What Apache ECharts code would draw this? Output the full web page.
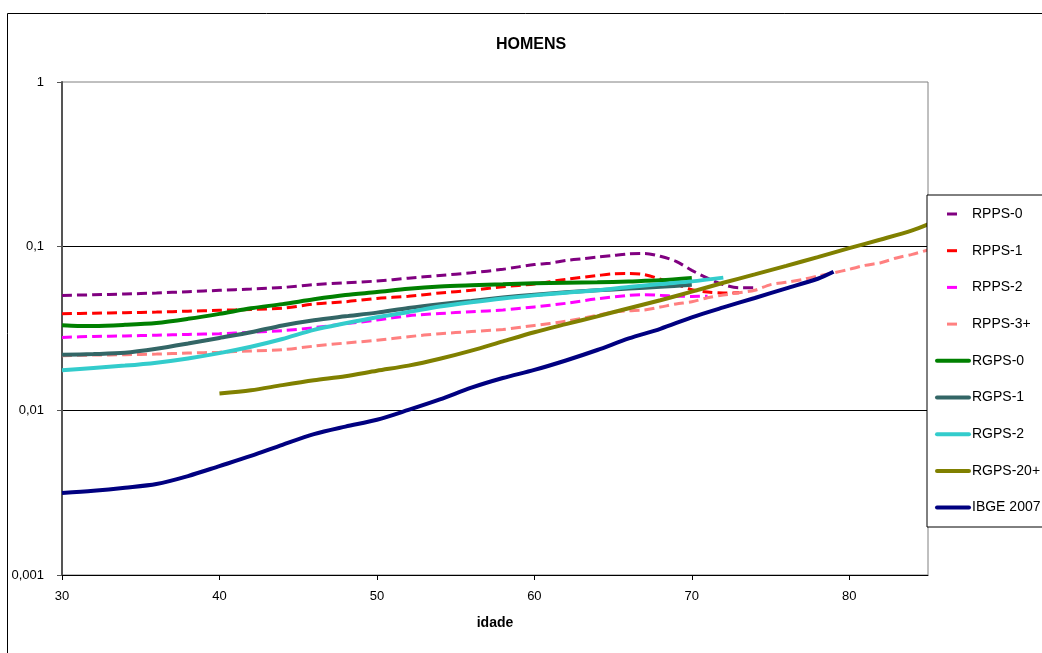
<!DOCTYPE html>
<html>
<head>
<meta charset="utf-8">
<title>HOMENS</title>
<script src="https://cdn.jsdelivr.net/npm/echarts@6/dist/echarts.min.js"></script>
<style>
  html, body { margin: 0; padding: 0; background: #ffffff; }
  #chart { width: 1042px; height: 653px; }
</style>
</head>
<body>
<div id="chart"></div>
<script>
// Mortality rates by age (log scale), males
const xTicks = [30, 40, 50, 60, 70, 80];
const yTicks = [0.001, 0.01, 0.1, 1];

const agesRPPS0 = [30, 32, 34, 36, 38, 40, 42, 44, 46, 48, 50, 52, 54, 56, 58, 59, 60, 61, 62, 63, 64, 65, 66, 67, 68, 69, 70, 71, 72, 73, 74];
const rpps0 = [0.0503, 0.0507, 0.0513, 0.052, 0.053, 0.054, 0.055, 0.0562, 0.0585, 0.06, 0.0615, 0.064, 0.0665, 0.069, 0.0725, 0.075, 0.0775, 0.079, 0.082, 0.084, 0.086, 0.088, 0.09, 0.0905, 0.087, 0.081, 0.0714, 0.064, 0.0585, 0.056, 0.056];

const agesRPPS1 = [30, 32, 34, 36, 38, 40, 42, 44, 46, 48, 50, 52, 54, 56, 58, 60, 62, 64, 65, 66, 67, 68, 69, 70, 71, 72, 73];
const rpps1 = [0.0389, 0.0392, 0.0395, 0.0398, 0.0403, 0.0408, 0.0413, 0.042, 0.0445, 0.046, 0.0482, 0.0497, 0.052, 0.054, 0.0568, 0.059, 0.063, 0.0664, 0.068, 0.0683, 0.0672, 0.0632, 0.059, 0.0545, 0.0527, 0.052, 0.0522];

const agesRPPS2 = [30, 32, 34, 36, 38, 40, 42, 44, 46, 48, 50, 52, 54, 56, 58, 60, 62, 64, 66, 67, 68, 69, 70, 71];
const rpps2 = [0.0279, 0.0283, 0.0285, 0.0288, 0.0291, 0.0294, 0.03, 0.0307, 0.032, 0.0338, 0.0356, 0.0378, 0.039, 0.04, 0.041, 0.0428, 0.045, 0.048, 0.0503, 0.0508, 0.0503, 0.0497, 0.0496, 0.0497];

const agesRPPS3 = [30, 32, 34, 36, 38, 40, 42, 44, 46, 48, 50, 52, 54, 56, 58, 60, 62, 64, 65, 66, 67, 68, 69, 70, 71, 72, 73, 74, 75, 76, 77, 78, 79, 80, 81, 82, 83, 84, 85];
const rpps3 = [0.0216, 0.0218, 0.0219, 0.0221, 0.0224, 0.0227, 0.0231, 0.0235, 0.0247, 0.0258, 0.0268, 0.0282, 0.0294, 0.0303, 0.0312, 0.033, 0.035, 0.038, 0.0398, 0.0405, 0.041, 0.0427, 0.0446, 0.046, 0.0487, 0.0505, 0.0522, 0.054, 0.0585, 0.0605, 0.0627, 0.066, 0.069, 0.0725, 0.0766, 0.0795, 0.085, 0.0894, 0.095];

const agesRGPS0 = [30, 31, 32, 34, 36, 38, 40, 42, 44, 46, 48, 50, 52, 54, 56, 58, 60, 62, 64, 66, 68, 70];
const rgps0 = [0.0331, 0.0328, 0.0328, 0.0333, 0.0342, 0.0362, 0.0388, 0.042, 0.0445, 0.0476, 0.0505, 0.0527, 0.0552, 0.057, 0.058, 0.0588, 0.0596, 0.06, 0.0604, 0.0612, 0.0621, 0.0641];

const agesRGPS1 = [30, 32, 34, 36, 38, 40, 42, 44, 46, 48, 50, 52, 54, 56, 58, 60, 62, 64, 66, 68, 70];
const rgps1 = [0.0219, 0.0221, 0.0225, 0.0238, 0.0256, 0.0277, 0.03, 0.033, 0.0355, 0.0375, 0.0395, 0.0422, 0.0445, 0.0465, 0.0488, 0.0508, 0.0525, 0.054, 0.0553, 0.0567, 0.0583];

const agesRGPS2 = [30, 32, 34, 36, 38, 40, 42, 44, 46, 48, 50, 52, 54, 56, 58, 60, 62, 64, 66, 68, 70, 72];
const rgps2 = [0.0176, 0.0182, 0.0188, 0.0196, 0.0208, 0.0224, 0.0245, 0.0273, 0.031, 0.034, 0.037, 0.0398, 0.043, 0.0457, 0.0482, 0.0503, 0.0522, 0.054, 0.0565, 0.059, 0.0612, 0.0645];

const agesRGPS20 = [40, 42, 44, 46, 48, 50, 52, 54, 56, 58, 60, 62, 64, 66, 68, 70, 72, 74, 76, 78, 80, 82, 84, 85];
const rgps20 = [0.0127, 0.0133, 0.0143, 0.0153, 0.0162, 0.0175, 0.0188, 0.0207, 0.0232, 0.0264, 0.03, 0.0336, 0.0375, 0.042, 0.047, 0.053, 0.06, 0.0675, 0.076, 0.086, 0.0975, 0.11, 0.125, 0.136];

const agesIBGE = [30, 32, 34, 36, 38, 40, 42, 44, 46, 48, 50, 52, 54, 56, 58, 60, 62, 64, 66, 68, 70, 72, 74, 76, 78, 79];
const ibge2007 = [0.00316, 0.00326, 0.0034, 0.00358, 0.004, 0.0046, 0.0053, 0.0062, 0.0072, 0.008, 0.0088, 0.0101, 0.0117, 0.0138, 0.0158, 0.0177, 0.0202, 0.0234, 0.0275, 0.0315, 0.037, 0.0425, 0.0485, 0.0555, 0.0635, 0.07];

const seriesNames = ['RPPS-0', 'RPPS-1', 'RPPS-2', 'RPPS-3+', 'RGPS-0', 'RGPS-1', 'RGPS-2', 'RGPS-20+', 'IBGE 2007'];
const seriesAges = [agesRPPS0, agesRPPS1, agesRPPS2, agesRPPS3, agesRGPS0, agesRGPS1, agesRGPS2, agesRGPS20, agesIBGE];
const seriesValues = [rpps0, rpps1, rpps2, rpps3, rgps0, rgps1, rgps2, rgps20, ibge2007];
const seriesColors = ['#800080', '#FF0000', '#FF00FF', '#FF8080', '#008000', '#336666', '#33CCCC', '#808000', '#000080'];
const seriesDashed = [true, true, true, true, false, false, false, false, false];

const FONT = '"Liberation Sans", Arial, sans-serif';

const series = seriesNames.map((name, i) => ({
  name: name,
  type: 'line',
  data: seriesAges[i].map((a, k) => [a, seriesValues[i][k]]),
  showSymbol: false,
  symbol: 'none',
  smooth: 0.3,
  lineStyle: {
    color: seriesColors[i],
    width: seriesDashed[i] ? 3 : 4,
    type: seriesDashed[i] ? [10, 5] : 'solid',
    cap: 'butt'
  },
  itemStyle: { color: seriesColors[i] },
  emphasis: { disabled: true },
  silent: true,
  z: 2 + i
}));

// Legend box on the right, drawn as graphic elements
const legendLeft = 927, legendTop = 195, legendStep = 36.7, firstRow = 214;
const legendItems = [];
legendItems.push({
  type: 'rect',
  shape: { x: legendLeft, y: legendTop, width: 140, height: 332 },
  style: { fill: '#ffffff', stroke: '#000000', lineWidth: 1 },
  z: 100
});
seriesNames.forEach((name, i) => {
  const y = firstRow + i * legendStep;
  legendItems.push({
    type: 'line',
    shape: seriesDashed[i]
      ? { x1: 947, y1: y, x2: 957, y2: y }
      : { x1: 937, y1: y, x2: 969, y2: y },
    style: { stroke: seriesColors[i], lineWidth: seriesDashed[i] ? 3 : 4, lineCap: seriesDashed[i] ? 'butt' : 'round' },
    z: 101
  });
  legendItems.push({
    type: 'text',
    x: 972, y: y,
    style: { text: name, fill: '#000000', font: '14px ' + FONT, textVerticalAlign: 'middle', textAlign: 'left' },
    z: 101
  });
});

const chart = echarts.init(document.getElementById('chart'), null, { renderer: 'canvas' });
chart.setOption({
  animation: false,
  backgroundColor: '#ffffff',
  title: {
    text: 'HOMENS',
    left: 526,
    top: 32,
    textAlign: 'center',
    textStyle: { fontFamily: FONT, fontSize: 16, fontWeight: 'bold', color: '#000000' }
  },
  grid: {
    left: 62, right: 114, top: 82, bottom: 78,
    show: true, borderColor: '#808080', borderWidth: 1, backgroundColor: 'transparent'
  },
  xAxis: {
    type: 'value',
    min: 30, max: 85, interval: 10,
    name: 'idade',
    nameLocation: 'middle',
    nameGap: 41,
    nameTextStyle: { fontFamily: FONT, fontSize: 14, fontWeight: 'bold', color: '#000000' },
    axisLine: { show: true, onZero: false, lineStyle: { color: '#000000', width: 1 } },
    axisTick: { show: true, inside: false, length: 5, lineStyle: { color: '#000000' } },
    axisLabel: {
      showMaxLabel: false,
      margin: 15,
      fontFamily: FONT, fontSize: 13, color: '#000000',
      formatter: v => (xTicks.indexOf(v) >= 0 ? String(v) : '')
    },
    splitLine: { show: false }
  },
  yAxis: {
    type: 'log',
    logBase: 10,
    min: yTicks[0], max: yTicks[yTicks.length - 1],
    axisLine: { show: true, lineStyle: { color: '#555555', width: 2 } },
    axisTick: { show: true, inside: false, length: 5, lineStyle: { color: '#555555' } },
    axisLabel: {
      margin: 18,
      fontFamily: FONT, fontSize: 13, color: '#000000',
      formatter: v => String(v).replace('.', ',')
    },
    splitLine: { show: true, showMinLine: false, showMaxLine: false, lineStyle: { color: '#000000', width: 1 } }
  },
  series: series,
  graphic: [
    {
      type: 'rect',
      shape: { x: 7.5, y: 13.5, width: 1100, height: 700 },
      style: { fill: 'none', stroke: '#000000', lineWidth: 1 },
      z: 0, silent: true
    },
    ...legendItems
  ]
});
</script>
</body>
</html>
